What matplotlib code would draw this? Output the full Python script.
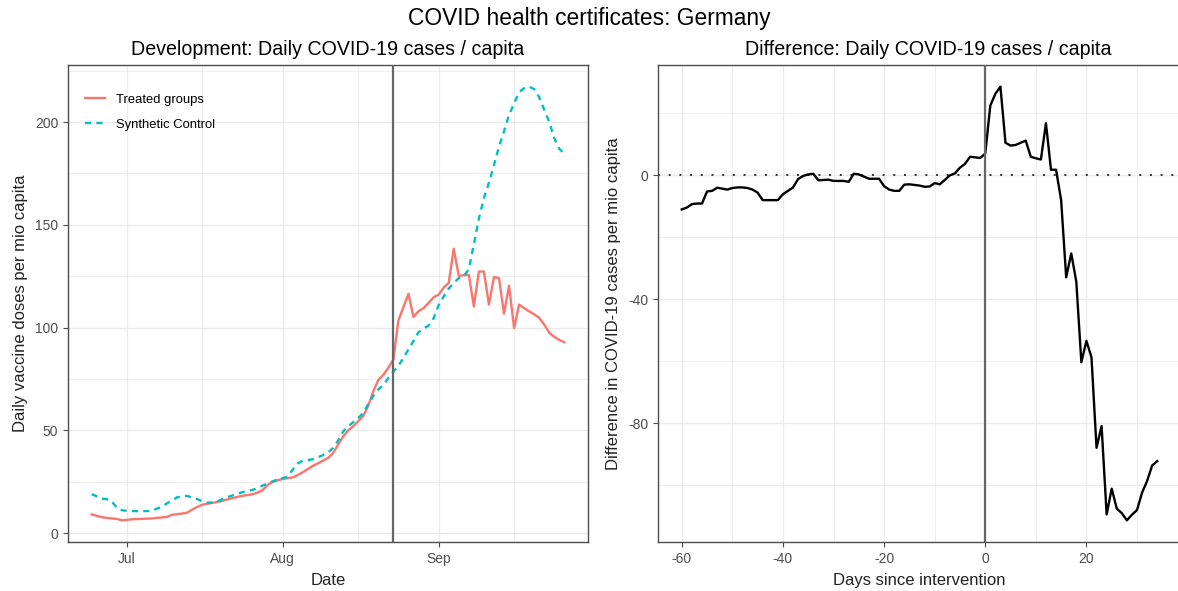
import pandas as pd
import numpy as np
import matplotlib
matplotlib.use("Agg")
import matplotlib.pyplot as plt
import matplotlib.dates as mdates
from matplotlib.ticker import MultipleLocator

plt.rcParams["font.family"] = ["Liberation Sans", "DejaVu Sans"]
plt.rcParams["axes.unicode_minus"] = False

# days relative to the intervention (Aug 23)
days = list(range(-60, 35))
start_date = "2021-06-24"
intervention_date = "2021-08-23"

treated = [
    9.2, 8.5, 7.8, 7.5, 7.2, 7.0, 6.3, 6.5, 6.8, 6.9,
    7.0, 7.1, 7.2, 7.5, 7.7, 8.0, 9.0, 9.3, 9.6, 10.0,
    11.5, 12.8, 13.9, 14.3, 14.8, 15.2, 15.8, 16.5, 17.1, 17.7,
    18.2, 18.6, 19.0, 19.8, 21.0, 23.5, 25.0, 25.8, 26.4, 26.8,
    27.2, 28.3, 29.7, 31.2, 32.8, 34.0, 35.3, 36.6, 39.0, 43.0,
    47.0, 50.0, 52.0, 54.5, 57.0, 62.0, 69.0, 74.5, 77.0, 80.5,
    84.5, 103.5, 110.0, 116.5, 105.2, 108.0, 109.5, 112.0, 114.8, 116.0,
    119.5, 121.7, 138.4, 125.2, 125.5, 125.7, 110.3, 127.3, 127.3, 111.2,
    124.6, 124.1, 106.8, 120.4, 99.8, 111.2, 109.5, 107.9, 106.5, 104.8,
    101.5, 97.5, 95.5, 94.0, 92.9,
]

synthetic = [
    19.0, 18.0, 16.8, 16.6, 15.5, 12.5, 11.2, 10.9, 10.8, 10.8,
    10.8, 10.8, 11.0, 12.0, 13.0, 14.6, 15.9, 17.5, 17.9, 18.2,
    17.3, 16.6, 15.5, 14.9, 14.9, 15.5, 16.6, 17.6, 18.4, 19.2,
    20.0, 20.5, 21.1, 22.0, 23.2, 24.2, 25.2, 26.3, 26.8, 27.5,
    31.0, 34.0, 35.3, 35.6, 36.0, 37.0, 38.0, 39.2, 41.5, 45.0,
    49.5, 52.0, 54.0, 56.0, 58.5, 62.8, 66.8, 70.0, 72.0, 75.5,
    78.5, 81.5, 85.2, 89.5, 93.5, 97.8, 99.5, 101.0, 104.5, 111.0,
    115.2, 119.0, 121.7, 124.1, 125.0, 128.5, 140.5, 153.0, 163.0, 170.5,
    179.0, 188.0, 195.5, 203.5, 209.0, 214.5, 216.5, 217.2, 216.0, 212.0,
    206.0, 200.0, 192.0, 187.0, 184.5,
]

difference = [
    -11.0, -10.4, -9.3, -9.1, -9.1, -5.2, -5.0, -4.0, -4.3, -4.6,
    -4.1, -3.9, -3.9, -4.1, -4.6, -5.6, -8.0, -8.0, -8.0, -8.0,
    -6.1, -5.0, -3.9, -1.2, -0.2, 0.3, 0.5, -1.6, -1.5, -1.4,
    -1.8, -1.8, -1.8, -2.1, 0.5, 0.3, -0.4, -1.1, -1.1, -1.1,
    -3.5, -4.6, -5.0, -5.0, -3.0, -2.9, -3.1, -3.3, -3.7, -3.6,
    -2.5, -2.9, -1.5, 0.0, 0.6, 2.5, 3.7, 6.0, 5.8, 5.6,
    7.0, 22.5, 26.3, 28.6, 10.5, 9.6, 9.8, 10.5, 11.2, 6.0,
    5.5, 5.1, 16.8, 1.8, 1.8, -8.0, -32.9, -25.2, -34.3, -60.3,
    -53.4, -58.7, -87.9, -80.9, -109.4, -101.1, -107.5, -109.0, -111.3, -109.5,
    -108.0, -102.4, -98.6, -93.6, -92.2,
]

RED = "#F8766D"
CYAN = "#00BFC4"
BORDER = "#4d4d4d"
GRID = "#ebebeb"
TICK_TEXT = "#4d4d4d"
LABEL_TEXT = "#222222"


def style_axes(ax):
    """theme_bw look: grey border, light major/minor grid, outward ticks"""
    for spine in ax.spines.values():
        spine.set_color(BORDER)
        spine.set_linewidth(1.0)
    ax.grid(which="major", color=GRID, linewidth=1.0)
    ax.grid(which="minor", color=GRID, linewidth=0.6)
    ax.set_axisbelow(True)
    ax.tick_params(which="major", direction="out", length=3.5, width=0.8,
                   color=BORDER, labelsize=10, labelcolor=TICK_TEXT)
    ax.tick_params(which="minor", length=0)


def development_graph(ax, df):
    ax.plot(df["date"], df["treated"], color=RED, linewidth=1.7,
            label="Treated groups", zorder=3)
    ax.plot(df["date"], df["synthetic"], color=CYAN, linewidth=1.7,
            linestyle=(0, (2.6, 2.2)), label="Synthetic Control", zorder=3)
    ax.axvline(pd.Timestamp(intervention_date), color="#666666", linewidth=1.6, zorder=4)

    # ggplot style 5% expansion on both axes
    x0 = mdates.date2num(df["date"].iloc[0])
    x1 = mdates.date2num(df["date"].iloc[-1])
    pad = (x1 - x0) * 0.05
    ax.set_xlim(x0 - pad, x1 + pad)
    y0, y1 = min(df["treated"].min(), df["synthetic"].min()), max(df["treated"].max(), df["synthetic"].max())
    ax.set_ylim(y0 - (y1 - y0) * 0.05, y1 + (y1 - y0) * 0.05)

    ax.xaxis.set_major_locator(mdates.MonthLocator())
    ax.xaxis.set_major_formatter(mdates.DateFormatter("%b"))
    ax.xaxis.set_minor_locator(mdates.DayLocator(bymonthday=16))
    ax.yaxis.set_major_locator(MultipleLocator(50))
    ax.yaxis.set_minor_locator(MultipleLocator(25))
    style_axes(ax)

    ax.set_title("Development: Daily COVID-19 cases / capita", fontsize=14.1, pad=7)
    ax.set_xlabel("Date", fontsize=12, color=LABEL_TEXT, labelpad=5)
    ax.set_ylabel("Daily vaccine doses per mio capita", fontsize=12, color=LABEL_TEXT, labelpad=5)
    ax.legend(loc="upper left", frameon=False, fontsize=9.4, handlelength=1.5,
              handletextpad=0.85, borderaxespad=0.9, labelspacing=0.95,
              bbox_to_anchor=(0.0, 0.975))


def difference_graph(ax, df):
    ax.plot(df["day"], df["difference"], color="black", linewidth=1.7, zorder=3)
    ax.axvline(0, color="#666666", linewidth=1.6, zorder=4)
    ax.axhline(0, color="#333333", linewidth=1.4, linestyle=(0, (1, 4.5)), zorder=2)

    x0, x1 = df["day"].min(), df["day"].max()
    ax.set_xlim(x0 - (x1 - x0) * 0.05, x1 + (x1 - x0) * 0.05)
    y0, y1 = df["difference"].min(), df["difference"].max()
    ax.set_ylim(y0 - (y1 - y0) * 0.05, y1 + (y1 - y0) * 0.05)

    ax.xaxis.set_major_locator(MultipleLocator(20))
    ax.xaxis.set_minor_locator(MultipleLocator(10))
    ax.yaxis.set_major_locator(MultipleLocator(40))
    ax.yaxis.set_minor_locator(MultipleLocator(20))
    style_axes(ax)

    ax.set_title("Difference: Daily COVID-19 cases / capita", fontsize=14.1, pad=7, x=0.517)
    ax.set_xlabel("Days since intervention", fontsize=12, color=LABEL_TEXT, labelpad=5)
    ax.set_ylabel("Difference in COVID-19 cases per mio capita", fontsize=12,
                  color=LABEL_TEXT, labelpad=5)


def main():
    df = pd.DataFrame({
        "day": days,
        "date": pd.date_range(start_date, periods=len(days), freq="D"),
        "treated": treated,
        "synthetic": synthetic,
        "difference": difference,
    })

    fig = plt.figure(figsize=(11.78, 5.91), dpi=100)
    ax_left = fig.add_axes([68 / 1178, 1 - 542 / 591, 520 / 1178, 477 / 591])
    ax_right = fig.add_axes([658 / 1178, 1 - 542 / 591, 523 / 1178, 477 / 591])

    development_graph(ax_left, df)
    difference_graph(ax_right, df)

    fig.text(0.5, 1 - 18 / 591, "COVID health certificates: Germany",
             fontsize=16.4, ha="center", va="center")
    fig.savefig("out.png", dpi=100)


main()
